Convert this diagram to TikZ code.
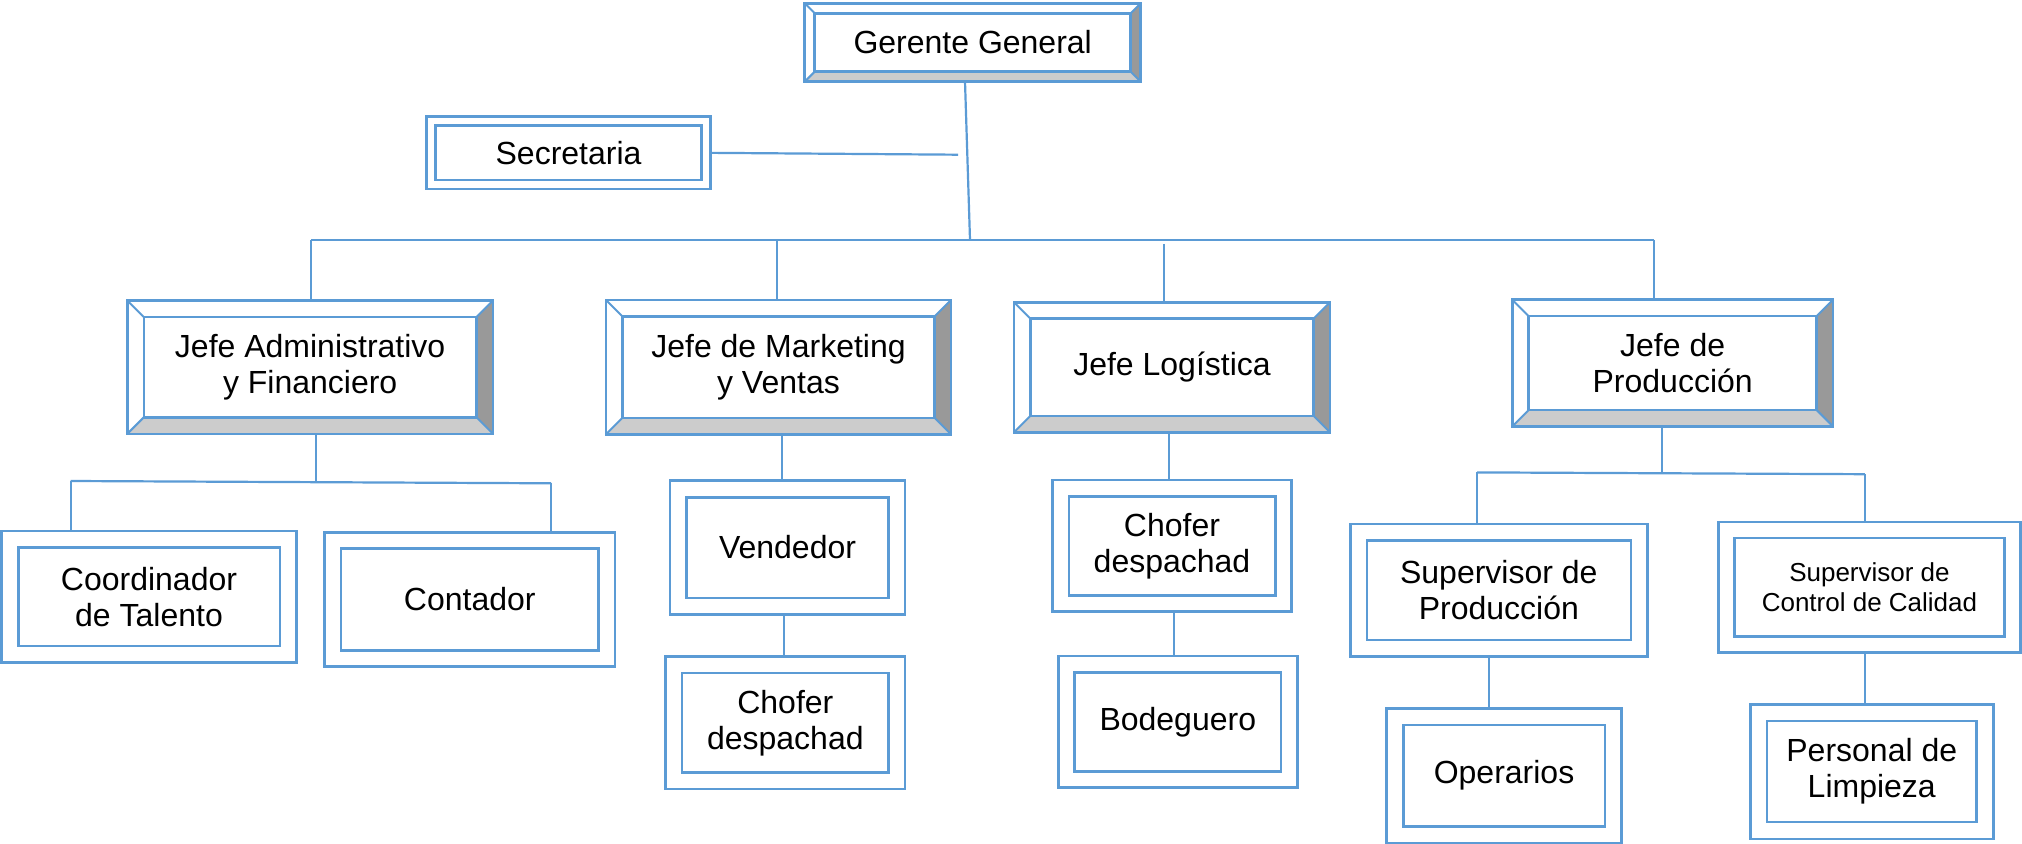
\documentclass[tikz,border=0pt]{standalone}
\usepackage{fontspec}
\setmainfont{Liberation Sans}
\definecolor{bl}{HTML}{5B9BD5}
\definecolor{dg}{HTML}{999999}
\definecolor{lg}{HTML}{CCCCCC}
\tikzset{
  boxline/.style={draw=bl, line width=1.3pt},
  diagline/.style={draw=bl, line width=1pt},
  conn/.style={draw=bl, line width=1.1pt},
  shell/.style={rectangle, inner sep=0pt, outer sep=0pt},
  lbl/.style={shell, align=center, font=\fontsize{16}{18}\selectfont},
  smalltext/.style={font=\fontsize{13}{15}\selectfont},
}
% [inner opts]{name}{x1}{y1}{x2}{y2}{gap}{text}
\newcommand\dbl[8][]{%
  \node[shell, boxline, minimum width={(#5-#3)*0.5pt}, minimum height={(#6-#4)*0.5pt}] (#2) at ({(#3+#5)/2},{(#4+#6)/2}) {};
  \node[lbl, boxline, minimum width={(#5-#3-2*#7)*0.5pt}, minimum height={(#6-#4-2*#7)*0.5pt}, #1] (#2-in) at (#2.center) {#8};
}
\newcommand\bev[8][]{%
  \node[shell, minimum width={(#5-#3)*0.5pt}, minimum height={(#6-#4)*0.5pt}] (#2) at ({(#3+#5)/2},{(#4+#6)/2}) {};
  \node[lbl, minimum width={(#5-#3-2*#7)*0.5pt}, minimum height={(#6-#4-2*#7)*0.5pt}, #1] (#2-in) at (#2.center) {#8};
  \fill[dg] (#2.north east) -- (#2.south east) -- (#2-in.south east) -- (#2-in.north east) -- cycle;
  \fill[lg] (#2.south west) -- (#2.south east) -- (#2-in.south east) -- (#2-in.south west) -- cycle;
  \draw[diagline] (#2.north west) -- (#2-in.north west) (#2.north east) -- (#2-in.north east)
                  (#2.south west) -- (#2-in.south west) (#2.south east) -- (#2-in.south east);
  \draw[boxline] (#2.north west) rectangle (#2.south east);
  \draw[boxline] (#2-in.north west) rectangle (#2-in.south east);
}
\begin{document}
\begin{tikzpicture}[x=0.5pt, y=-0.5pt]
\useasboundingbox (0,0) rectangle (2022,844);

% boxes
\bev{gg}{804.7}{3.3}{1140.7}{81.7}{10}{Gerente General}
\dbl{sec}{426.4}{116.7}{710.7}{189}{9}{Secretaria}
\bev{adm}{127.3}{300.5}{493}{433.8}{16.5}{Jefe Administrativo\\y Financiero}
\bev{mkt}{606}{300}{951}{434.3}{16.5}{Jefe de Marketing\\y Ventas}
\bev{log}{1014}{302.3}{1330}{432.3}{16.5}{Jefe Logística}
\bev{prod}{1512.3}{299.8}{1833}{426.4}{16.3}{Jefe de\\Producción}
\dbl{coord}{1.7}{531}{296.3}{662.5}{16.5}{Coordinador\\de Talento}
\dbl{cont}{324.5}{532.3}{615}{666.7}{16.3}{Contador}
\dbl{vend}{670}{480.7}{905}{614.3}{16.5}{Vendedor}
\dbl{cho1}{665.7}{656.7}{905}{789}{16.3}{Chofer\\despachad}
\dbl{cho2}{1052.3}{480}{1291.7}{611.7}{16.5}{Chofer\\despachad}
\dbl{bod}{1058.3}{656}{1297.3}{787.7}{16.3}{Bodeguero}
\dbl{sp}{1350.3}{523.9}{1647.3}{656.6}{16.5}{Supervisor de\\Producción}
\dbl[smalltext]{sc}{1718.3}{522}{2020.6}{652.3}{16}{Supervisor de\\Control de Calidad}
\dbl{op}{1386.5}{708.3}{1621.5}{843}{16.7}{Operarios}
\dbl{per}{1750.3}{704.2}{1993.2}{838.8}{16.7}{Personal de\\Limpieza}

% top connectors
\coordinate (trk) at (965,0);
\coordinate (tb) at (970,240);
\draw[conn] (trk |- gg.south) -- (tb);
\coordinate (secE) at (958,154.7);
\draw[conn] (sec.east) -- (secE);
\coordinate (busL) at (311,240);
\coordinate (busR) at (1654,240);
\draw[conn] (busL) -- (busR);
\draw[conn] (busL) -- (busL |- adm.north);
\coordinate (dm) at (776.7,240);
\draw[conn] (dm) -- (dm |- mkt.north);
\coordinate (dl) at (1164.3,244);
\draw[conn] (dl) -- (dl |- log.north);
\draw[conn] (busR) -- (busR |- prod.north);

% administrativo
\coordinate (a1) at (316,482);
\draw[conn] (a1 |- adm.south) -- (a1);
\coordinate (aL) at (70.6,481);
\coordinate (aR) at (551,483.3);
\draw[conn] (aL) -- (aR);
\draw[conn] (aL) -- (aL |- coord.north);
\draw[conn] (aR) -- (aR |- cont.north);

% marketing
\coordinate (m1) at (782,0);
\draw[conn] (m1 |- mkt.south) -- (m1 |- vend.north);
\coordinate (m2) at (784.3,0);
\draw[conn] (m2 |- vend.south) -- (m2 |- cho1.north);

% logistica
\coordinate (l1) at (1168.7,0);
\draw[conn] (l1 |- log.south) -- (l1 |- cho2.north);
\coordinate (l2) at (1174.3,0);
\draw[conn] (l2 |- cho2.south) -- (l2 |- bod.north);

% produccion
\coordinate (p1) at (1662.3,473.5);
\draw[conn] (p1 |- prod.south) -- (p1);
\coordinate (pL) at (1477,472.4);
\coordinate (pR) at (1864.9,474.2);
\draw[conn] (pL) -- (pR);
\draw[conn] (pL) -- (pL |- sp.north);
\draw[conn] (pR) -- (pR |- sc.north);
\coordinate (p2) at (1488.9,0);
\draw[conn] (p2 |- sp.south) -- (p2 |- op.north);
\coordinate (p3) at (1864.9,0);
\draw[conn] (p3 |- sc.south) -- (p3 |- per.north);
\end{tikzpicture}
\end{document}
